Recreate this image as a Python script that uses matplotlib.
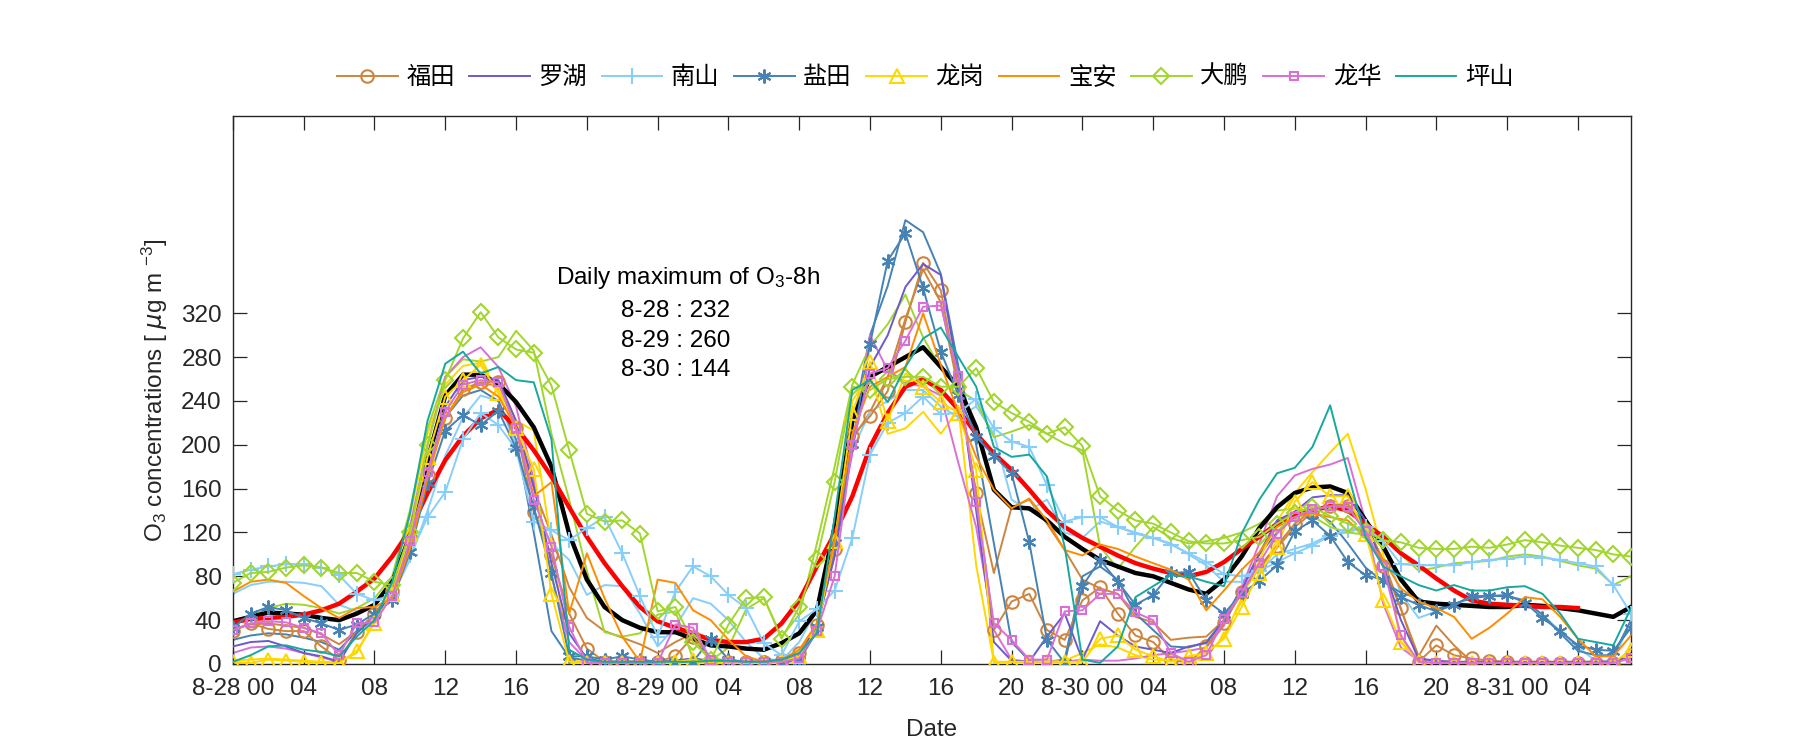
import numpy as np
import matplotlib
matplotlib.use("Agg")
import matplotlib.pyplot as plt

plt.rcParams['font.family'] = ['Liberation Sans', 'Noto Sans CJK SC', 'DejaVu Sans']
plt.rcParams['mathtext.default'] = 'regular'

# hourly O3 from 8-28 00:00 to 8-31 07:00
hours = np.arange(80)
tick_hours = list(range(0, 80, 4))
tick_labels = ['8-28 00', '04', '08', '12', '16', '20',
               '8-29 00', '04', '08', '12', '16', '20',
               '8-30 00', '04', '08', '12', '16', '20',
               '8-31 00', '04']
y_ticks = [0, 40, 80, 120, 160, 200, 240, 280, 320]

stations = ['福田', '罗湖', '南山', '盐田', '龙岗', '宝安', '大鹏', '龙华', '坪山']

futian = [30, 37, 32, 30, 30, 16, 4, 29, 46, 67, 116, 172, 224, 251,
          257, 257, 215, 139, 99, 46, 14, 2, 2, 2, 2, 7, 25,
          2, 2, 2, 2, 4, 10, 36, 105, 208, 226, 249, 312, 366, 341,
          253, 156, 31, 57, 64, 31, 22, 58, 70, 46, 26, 20, 4,
          1, 16, 37, 66, 89, 108, 128, 140, 144, 144, 121, 89, 51, 2,
          17, 8, 5, 3, 2, 1, 1, 1, 1, 1, 1, 8]
luohu = [16, 20, 21, 16, 10, 7, 2, 28, 43, 66, 110, 171, 235, 259,
         262, 259, 222, 162, 92, 28, 5, 2, 2, 2, 1, 3, 5,
         2, 2, 2, 2, 2, 5, 37, 98, 198, 271, 300, 344, 365, 355,
         262, 140, 20, 3, 2, 25, 46, 4, 39, 26, 16, 13, 10,
         16, 19, 40, 67, 101, 131, 139, 152, 154, 154, 131, 89, 40, 5,
         3, 2, 2, 2, 2, 2, 2, 2, 2, 2, 2, 8]
nanshan = [82, 86, 89, 91, 91, 88, 81, 64, 58, 63, 99, 134, 157, 205,
           229, 218, 196, 130, 122, 113, 124, 134, 101, 62, 25, 66, 89,
           80, 63, 51, 19, 8, 39, 50, 67, 115, 191, 220, 229, 244, 228,
           229, 242, 215, 203, 198, 163, 130, 134, 134, 125, 119, 115, 109,
           101, 93, 82, 80, 85, 93, 101, 108, 117, 122, 125, 112, 91, 90,
           90, 90, 93, 95, 96, 98, 97, 95, 92, 89, 72, 46]
yantian = [33, 46, 52, 49, 42, 37, 31, 36, 46, 58, 102, 165, 213, 227,
           218, 231, 197, 143, 83, 7, 7, 4, 7, 4, 2, 2, 2,
           23, 4, 2, 2, 2, 3, 34, 110, 201, 292, 368, 393, 343, 285,
           245, 207, 190, 174, 111, 22, 1, 71, 95, 75, 54, 63, 83,
           84, 58, 46, 64, 76, 90, 121, 131, 117, 93, 81, 77, 61, 54,
           48, 54, 62, 62, 63, 56, 42, 30, 17, 13, 12, 33]
longgang = [2, 1, 4, 3, 2, 1, 1, 12, 37, 64, 119, 189, 244, 259,
            273, 247, 215, 178, 64, 2, 1, 1, 1, 1, 1, 2, 4,
            1, 1, 1, 1, 2, 7, 31, 112, 229, 276, 222, 265, 253, 239,
            229, 177, 1, 2, 2, 2, 2, 2, 23, 26, 13, 7, 2,
            7, 10, 23, 52, 83, 107, 148, 166, 153, 153, 119, 58, 20, 2,
            1, 1, 1, 1, 1, 1, 1, 1, 1, 1, 1, 13]
baoan = [66, 75, 77, 74, 62, 51, 42, 51, 52, 60, 105, 170, 225, 248,
         255, 244, 216, 153, 166, 46, 101, 60, 25, 2, 77, 74, 49,
         40, 22, 7, 2, 4, 13, 37, 113, 210, 253, 262, 271, 320, 273,
         229, 189, 159, 142, 151, 131, 104, 99, 109, 105, 98, 92, 86,
         77, 49, 67, 86, 102, 125, 134, 137, 134, 131, 116, 95, 69, 57,
         51, 43, 23, 33, 46, 61, 59, 43, 23, 7, 7, 26]
dapeng = [74, 83, 84, 88, 90, 88, 83, 83, 75, 72, 120, 200, 259, 297,
          321, 298, 287, 284, 254, 195, 137, 130, 131, 119, 48, 52, 20,
          4, 36, 60, 61, 23, 52, 96, 166, 253, 250, 260, 262, 262, 253,
          253, 270, 239, 229, 221, 210, 216, 199, 153, 140, 131, 128, 120,
          112, 110, 110, 113, 116, 128, 138, 143, 135, 128, 121, 113, 111, 106,
          105, 105, 107, 106, 109, 113, 111, 108, 106, 104, 100, 98]
longhua = [31, 37, 39, 38, 33, 28, 8, 37, 38, 62, 112, 175, 230, 255,
           259, 257, 215, 150, 107, 34, 1, 1, 1, 1, 1, 36, 33,
           4, 2, 2, 2, 2, 5, 30, 80, 200, 265, 270, 295, 326, 327,
           263, 148, 37, 22, 4, 4, 48, 49, 64, 64, 47, 40, 10,
           2, 8, 41, 65, 92, 119, 134, 141, 144, 143, 121, 89, 26, 2,
           1, 1, 1, 1, 1, 1, 1, 1, 1, 1, 1, 5]
pingshan = [2, 8, 16, 17, 13, 11, 7, 25, 40, 75, 137, 222, 274, 285,
            265, 271, 259, 257, 205, 13, 4, 2, 2, 2, 2, 2, 2,
            3, 3, 2, 2, 4, 10, 28, 134, 250, 259, 239, 271, 297, 307,
            280, 253, 198, 189, 191, 171, 107, 4, 1, 16, 61, 71, 81,
            80, 75, 71, 119, 150, 174, 179, 198, 236, 174, 116, 89, 80, 72,
            67, 72, 67, 67, 70, 71, 64, 46, 23, 20, 17, 51]

# second (unmarked) traces drawn in the same colours
futian_b = [32, 36, 37, 35, 33, 27, 18, 30, 44, 68, 118, 175, 225, 250,
            255, 255, 220, 160, 118, 70, 42, 30, 24, 18, 10, 20, 28,
            5, 3, 2, 2, 3, 8, 33, 100, 205, 230, 262, 315, 360, 330,
            250, 155, 83, 143, 150, 128, 104, 77, 69, 64, 43, 38, 22,
            24, 25, 40, 64, 88, 106, 125, 138, 145, 146, 128, 95, 50, 7,
            35, 17, 2, 1, 1, 1, 1, 1, 1, 1, 1, 10]
nanshan_b = [64, 72, 75, 75, 74, 71, 54, 48, 51, 62, 95, 140, 190, 225,
             245, 240, 200, 140, 110, 95, 63, 72, 71, 46, 16, 34, 60,
             55, 40, 20, 5, 3, 20, 50, 110, 195, 230, 240, 250, 250, 235,
             225, 235, 210, 150, 140, 150, 120, 115, 130, 125, 120, 115, 110,
             100, 90, 75, 75, 85, 100, 105, 110, 118, 120, 125, 110, 64, 42,
             48, 55, 55, 55, 55, 55, 45, 30, 15, 3, 3, 40]
yantian_b = [22, 26, 28, 27, 24, 20, 13, 30, 45, 62, 110, 175, 225, 245,
             250, 240, 205, 120, 30, 6, 3, 2, 2, 2, 2, 2, 2,
             2, 2, 2, 2, 2, 3, 30, 110, 215, 300, 345, 405, 394, 356,
             271, 200, 110, 20, 3, 2, 4, 80, 89, 77, 46, 31, 16,
             15, 20, 40, 70, 100, 120, 135, 140, 130, 110, 88, 75, 65, 60,
             50, 55, 60, 62, 62, 58, 45, 28, 12, 8, 8, 40]
longgang_b = [3, 4, 5, 4, 3, 2, 2, 10, 40, 75, 135, 210, 255, 272,
              275, 250, 222, 213, 110, 3, 2, 2, 2, 2, 2, 2, 2,
              2, 2, 2, 2, 3, 8, 35, 120, 240, 265, 210, 215, 230, 210,
              232, 90, 2, 2, 2, 2, 3, 10, 18, 15, 8, 4, 3,
              5, 8, 25, 60, 95, 130, 156, 175, 193, 210, 160, 100, 20, 3,
              2, 2, 2, 2, 2, 2, 2, 2, 2, 2, 2, 8]
dapeng_b = [36, 43, 51, 55, 54, 51, 46, 51, 60, 80, 140, 215, 262, 278,
            276, 280, 304, 286, 210, 150, 85, 29, 25, 28, 45, 48, 5,
            3, 15, 50, 60, 25, 45, 110, 180, 255, 290, 310, 337, 298, 270,
            250, 240, 207, 212, 218, 210, 201, 195, 107, 87, 107, 125, 115,
            110, 112, 115, 120, 128, 140, 142, 135, 125, 120, 118, 115, 100, 85,
            88, 92, 93, 94, 98, 100, 98, 94, 90, 87, 72, 80]
longhua_b = [10, 15, 16, 14, 10, 6, 2, 30, 42, 70, 125, 200, 262, 280,
             289, 271, 235, 168, 80, 20, 3, 2, 2, 2, 2, 3, 5,
             3, 2, 2, 2, 3, 8, 35, 110, 192, 300, 268, 257, 253, 245,
             183, 125, 31, 4, 2, 2, 2, 4, 3, 3, 5, 8, 10,
             12, 15, 35, 70, 110, 153, 172, 178, 182, 188, 130, 55, 15, 3,
             2, 1, 1, 1, 1, 1, 1, 1, 1, 1, 2, 8]

# city mean (black) and 8-h running mean (red)
city_mean = [39, 43, 47, 46, 45, 42, 40, 46, 54, 75, 116, 186, 245, 264,
             264, 256, 239, 216, 180, 119, 77, 52, 40, 33, 29, 29, 23,
             17, 16, 14, 13, 19, 28, 49, 125, 222, 262, 271, 280, 289, 271,
             253, 216, 159, 143, 142, 131, 116, 105, 95, 89, 83, 80, 74,
             68, 64, 77, 98, 124, 143, 156, 161, 162, 156, 131, 107, 77, 57,
             55, 54, 53, 52, 52, 54, 53, 51, 49, 46, 43, 52]
o3_8h = [38, 41, 42, 43, 45, 49, 55, 66, 78, 98, 122, 156, 186, 208,
         224, 232, 216, 195, 171, 143, 116, 92, 71, 52, 39, 33, 28,
         22, 20, 20, 23, 37, 58, 89, 119, 153, 198, 229, 253, 260, 250,
         232, 210, 192, 177, 159, 140, 125, 115, 107, 99, 92, 87, 83,
         80, 84, 93, 105, 116, 128, 136, 140, 144, 140, 128, 116, 101, 90,
         78, 67, 58, 55, 54, 53, 52, 52, 51, np.nan, np.nan, np.nan]

daily_max = [('8-28', 232), ('8-29', 260), ('8-30', 144)]

colors = ['#CD853F', '#6A5ACD', '#87CEFA', '#4682B4', '#FFD700',
          '#FF8C00', '#A2D62E', '#DA70D6', '#17A89E']
markers = ['o', None, '+', (6, 2, 0), '^', None, 'D', 's', None]
msizes = [9, 0, 11, 10, 10, 0, 8, 6, 0]
series = [futian, luohu, nanshan, yantian, longgang, baoan, dapeng, longhua, pingshan]
extra = {0: futian_b, 2: nanshan_b, 3: yantian_b, 4: longgang_b, 6: dapeng_b, 7: longhua_b}

FS = 17.5
fig = plt.figure(figsize=(18, 7.5), dpi=100)
ax = fig.add_axes([0.1294, 0.1147, 0.7767, 0.7306])

for i, data in extra.items():
    ax.plot(hours, data, color=colors[i], lw=1.4, zorder=2)

ax.plot(hours, city_mean, color='black', lw=3.2, zorder=2.5)
ax.plot(hours, o3_8h, color='red', lw=3.2, zorder=2.6)

handles = []
for i, data in enumerate(series):
    if markers[i] is None:
        h, = ax.plot(hours, data, color=colors[i], lw=1.4, zorder=3)
    else:
        h, = ax.plot(hours, data, color=colors[i], lw=1.4, marker=markers[i],
                     markersize=msizes[i], markerfacecolor='none',
                     markeredgewidth=1.5, zorder=3)
    handles.append(h)

ax.set_xlim(0, 79)
ax.set_ylim(0, 500)
ax.set_xticks(tick_hours)
ax.set_xticklabels(tick_labels)
ax.set_yticks(y_ticks)
ax.tick_params(direction='in', length=10, width=0.9, top=True, right=True,
               labelsize=FS, colors='#262626')
ax.tick_params(axis='x', pad=10)
ax.tick_params(axis='y', pad=8)
for sp in ax.spines.values():
    sp.set_color('#262626')
    sp.set_linewidth(1.0)

ax.set_xlabel('Date', fontsize=FS, color='#262626', labelpad=14)
ax.set_ylabel(r'O$_3$ concentrations [ $\mathit{\mu}$g m $^{-3}$]', fontsize=FS,
              color='#262626', labelpad=8)

ax.text(25.7, 352, 'Daily maximum of O$_3$-8h', ha='center', va='center',
        fontsize=FS, color='black')
for k, (day, val) in enumerate(daily_max):
    ax.text(25.0, 322 - k * 27, f'{day} : {val}', ha='center', va='center',
            fontsize=FS, color='black')

fig.legend(handles, stations, loc='center', bbox_to_anchor=(0.514, 0.897),
           ncol=9, frameon=False, handlelength=2.5, handletextpad=0.35,
           columnspacing=0.6, prop={'family': ['Noto Sans CJK SC'], 'size': FS})

fig.savefig('out.png', dpi=100, facecolor='white')
